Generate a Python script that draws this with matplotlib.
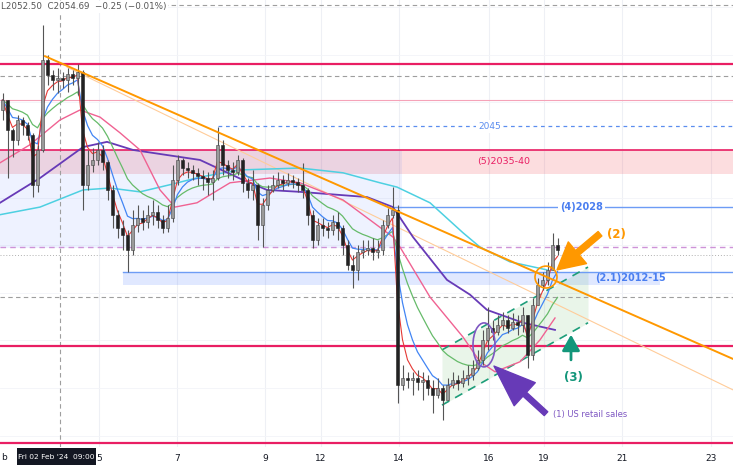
import matplotlib
matplotlib.use('Agg')
import matplotlib.pyplot as plt
import numpy as np
import pandas as pd
from matplotlib.patches import Ellipse

# ---------------- data (bar index = one candle, price in USD) ----------------
open0 = 2048.4
close = [2050.5, 2044.2, 2042.1, 2046.3, 2045.3, 2043.2, 2032.7, 2040.0, 2058.9, 2055.8,
         2054.7, 2055.1, 2054.7, 2056.0, 2055.1, 2056.4, 2032.7, 2036.9, 2037.9, 2040.0,
         2037.5, 2031.6, 2026.4, 2023.6, 2022.2, 2019.0, 2024.3, 2025.7, 2024.9, 2026.4,
         2027.0, 2025.3, 2023.6, 2025.7, 2033.7, 2037.9, 2036.2, 2035.8, 2035.2, 2034.5,
         2034.1, 2033.3, 2034.1, 2041.1, 2036.9, 2035.8, 2035.4, 2037.9, 2033.1, 2031.6,
         2032.7, 2024.3, 2028.5, 2031.6, 2032.7, 2033.7, 2033.1, 2033.7, 2033.3, 2032.7,
         2031.6, 2026.4, 2021.1, 2024.3, 2023.6, 2023.2, 2024.9, 2023.6, 2020.0, 2015.9,
         2014.8, 2018.6, 2019.0, 2019.4, 2018.6, 2019.0, 2024.3, 2026.4, 2027.4, 1990.6,
         1992.1, 1991.7, 1992.1, 1991.3, 1991.7, 1990.0, 1988.5, 1990.0, 1987.5, 1990.6,
         1991.7, 1991.1, 1992.1, 1992.8, 1994.2, 1995.9, 2000.1, 2002.6, 2001.8, 2003.3,
         2004.3, 2002.6, 2003.9, 2003.3, 2005.4, 1997.0, 2007.5, 2011.7, 2012.7, 2014.8,
         2020.0, 2019.0]
high = [2052.0, 2050.5, 2044.6, 2047.4, 2046.9, 2045.9, 2043.6, 2041.1, 2066.3, 2060.0,
        2056.8, 2057.2, 2056.4, 2057.2, 2056.8, 2058.1, 2056.8, 2040.0, 2040.4, 2041.7,
        2041.1, 2037.9, 2032.7, 2027.4, 2025.3, 2023.2, 2027.4, 2028.5, 2027.4, 2028.5,
        2029.5, 2028.5, 2026.4, 2028.5, 2036.9, 2038.9, 2038.3, 2037.5, 2036.9, 2036.2,
        2035.8, 2035.4, 2035.8, 2044.8, 2042.1, 2037.9, 2037.5, 2038.9, 2038.3, 2034.1,
        2035.8, 2033.1, 2029.9, 2032.7, 2034.8, 2035.4, 2034.8, 2035.2, 2034.8, 2034.1,
        2037.3, 2032.0, 2027.4, 2025.7, 2025.7, 2024.9, 2026.4, 2027.0, 2024.3, 2021.1,
        2018.0, 2020.0, 2021.1, 2021.1, 2021.5, 2021.1, 2025.3, 2027.8, 2032.2, 2028.5,
        1994.8, 1993.4, 1993.4, 1993.8, 1993.4, 1992.8, 1991.7, 1992.1, 1990.6, 1992.1,
        1993.4, 1992.8, 1993.8, 1994.9, 1995.9, 1998.0, 2002.2, 2007.0, 2004.3, 2005.4,
        2006.0, 2005.4, 2005.8, 2005.4, 2007.0, 2005.4, 2008.9, 2013.1, 2014.4, 2016.5,
        2022.6, 2021.5]
low = [2046.3, 2034.1, 2038.5, 2041.1, 2043.2, 2042.1, 2030.1, 2031.2, 2039.6, 2053.7,
       2052.6, 2052.0, 2053.0, 2052.2, 2053.7, 2051.6, 2027.4, 2031.6, 2035.4, 2036.9,
       2035.8, 2029.5, 2023.6, 2021.5, 2019.0, 2014.4, 2018.0, 2022.8, 2023.2, 2023.6,
       2024.3, 2023.6, 2022.6, 2022.8, 2024.9, 2032.7, 2034.8, 2034.1, 2033.7, 2032.7,
       2031.6, 2030.6, 2029.5, 2033.7, 2034.8, 2034.1, 2033.7, 2034.8, 2031.2, 2029.9,
       2029.5, 2021.1, 2019.6, 2027.4, 2031.2, 2032.0, 2031.6, 2032.4, 2032.0, 2031.2,
       2029.9, 2024.3, 2019.4, 2020.0, 2021.9, 2021.5, 2022.2, 2021.1, 2018.0, 2014.8,
       2011.0, 2012.7, 2017.3, 2018.0, 2016.9, 2017.3, 2018.0, 2023.6, 2025.7, 1986.9,
       1989.6, 1990.0, 1988.5, 1989.6, 1987.5, 1988.5, 1984.8, 1987.9, 1983.3, 1987.5,
       1990.0, 1989.6, 1990.2, 1990.7, 1991.7, 1993.8, 1994.9, 1998.0, 2000.1, 2001.2,
       2002.2, 2001.6, 2002.2, 2001.2, 2001.8, 1994.2, 1995.9, 2007.5, 2010.6, 2011.7,
       2014.8, 2018.0]

# slower moving averages (bar index, price)
pink_ma_x = [-0.5, 5.5, 11.5, 15.5, 19.5, 23.5, 27.5, 31.5, 34.5, 38.9, 45.5, 53.5, 59.5,
             68.1, 73.5, 78.1, 79.5, 85.5, 92.1, 95.5, 98.5, 103.5, 107.5, 110.5]
pink_ma_y = [2037.3, 2041.1, 2046.3, 2048.4, 2046.9, 2043.6, 2040.0, 2031.6, 2028.0, 2028.9,
             2033.1, 2034.1, 2033.1, 2029.5, 2025.3, 2021.7, 2019.6, 2009.1, 2000.7, 1995.5,
             1993.4, 1995.5, 2000.1, 2004.7]
purple_ma_x = [-0.5, 7.5, 16.1, 20.9, 26.1, 39.5, 48.1, 52.9, 59.5, 72.9, 78.1, 82.1, 88.9,
               93.5, 96.9, 104.1, 110.5]
purple_ma_y = [2028.9, 2034.1, 2040.6, 2041.7, 2040.0, 2037.9, 2033.7, 2031.6, 2031.2, 2030.1,
               2028.0, 2021.7, 2012.7, 2009.6, 2006.4, 2003.7, 2002.2]
cyan_ma_x = [-0.5, 7.5, 16.1, 21.5, 27.5, 33.5, 39.5, 47.5, 59.5, 68.1, 75.5, 78.9, 85.5,
             92.1, 95.5, 101.5, 108.9]
cyan_ma_y = [2026.4, 2028.0, 2031.6, 2032.0, 2031.2, 2032.7, 2034.3, 2035.8, 2036.2, 2035.2,
             2033.1, 2032.2, 2028.9, 2022.6, 2019.6, 2016.5, 2014.8]

# key levels
level_2045 = 2045.0
zone5 = (2035.0, 2040.0)
level_4 = 2028.0
zone21 = (2011.6, 2014.3)
red_levels = [2058.0, 1998.8, 1978.5]
gray_dashed_levels = [2070.4, 2055.5, 2009.1]
gray_dotted_level = 2017.9
pink_thin_level = 2050.5
violet_dashed_level = 2019.6
blue_zone = (2019.5, 2040.0)

# trend lines / channel (bar index, price)
trend_main = ([8.5, 146.1], [2059.7, 1996.1])
trend_faint = ([12.9, 146.1], [2057.4, 1989.6])
chan_lower = ([87.9, 117.1], [1986.4, 2003.7])
chan_upper = ([87.9, 117.1], [1998.0, 2015.4])

tick_pos = [19.3, 34.9, 52.5, 63.7, 79.3, 97.3, 108.3, 123.9, 141.7]
tick_lab = ['5', '7', '9', '12', '14', '16', '19', '21', '23']

# ---------------- figure ----------------
W, H = 733, 465
fig = plt.figure(figsize=(W / 100, H / 100), dpi=100)
ax = fig.add_axes([0, 18 / H, 1, 447 / H])
XMAX = 146.1
ax.set_xlim(-0.5, XMAX)
ax.set_ylim(1977.6, 2071.5)
for s in ax.spines.values():
    s.set_visible(False)
ax.set_yticks([])
ax.set_xticks(tick_pos)
ax.set_xticklabels(tick_lab)
ax.tick_params(axis='x', length=0, pad=5, labelsize=6.5, labelcolor='#131722')

# grid
for t in tick_pos:
    ax.axvline(t, color='#eef0f5', lw=0.8, zorder=0)
for p in np.arange(1980, 2071, 10):
    ax.axhline(p, color='#f3f4f8', lw=0.6, zorder=0)

# zones
ax.fill_between([-0.5, XMAX], zone5[0], zone5[1], color='#f23645', alpha=0.17, lw=0, zorder=1)
ax.fill_between([-0.5, 79.9], blue_zone[0], blue_zone[1], color='#2962ff', alpha=0.08, lw=0, zorder=1)
ax.fill_between([24.1, 131.5], zone21[0], zone21[1], color='#2962ff', alpha=0.14, lw=0, zorder=1)
ax.plot([24.1, XMAX], [zone21[1]] * 2, color='#6d9cf5', lw=1.0, zorder=2)

# horizontal lines
for lv in red_levels:
    ax.axhline(lv, color='#e91e63', lw=1.6, zorder=3)
ax.axhline(zone5[1], color='#e91e63', lw=1.2, zorder=3)
for lv in gray_dashed_levels:
    ax.axhline(lv, color='#9e9e9e', lw=0.8, ls=(0, (4, 3)), zorder=2)
ax.axhline(gray_dotted_level, color='#b0b0b0', lw=0.7, ls=(0, (1, 2)), zorder=2)
ax.axhline(pink_thin_level, color='#f5a3b8', lw=0.8, zorder=2)
ax.axhline(violet_dashed_level, color='#ce93d8', lw=1.0, ls=(0, (4, 3)), zorder=2)
ax.plot([43.1, XMAX], [level_2045] * 2, color='#5b8def', lw=0.9, ls=(0, (3, 3)), zorder=2)
ax.plot([77.9, XMAX], [level_4] * 2, color='#6d9cf5', lw=1.0, zorder=2)

# crosshair
ax.axvline(11.5, color='#9e9e9e', lw=0.8, ls=(0, (4, 3)), zorder=2)

# green channel
cx = np.array(chan_lower[0])
ax.fill_between(cx, chan_lower[1], chan_upper[1], color='#4caf50', alpha=0.12, lw=0, zorder=1)
ax.plot(*chan_lower, color='#1e9e7a', lw=1.2, ls=(0, (5, 4)), zorder=4)
ax.plot(*chan_upper, color='#1e9e7a', lw=1.2, ls=(0, (5, 4)), zorder=4)

# trend lines
ax.plot(*trend_faint, color='#ffcc99', lw=0.8, zorder=3)
ax.plot(*trend_main, color='#ff9800', lw=1.4, zorder=6)

# moving averages
c = pd.Series(close)
ax.plot(cyan_ma_x, cyan_ma_y, color='#4dd0e1', lw=1.1, zorder=4)
ax.plot(purple_ma_x, purple_ma_y, color='#673ab7', lw=1.3, zorder=4)
ax.plot(pink_ma_x, pink_ma_y, color='#f06292', lw=1.0, zorder=4)
x = np.arange(len(close))
ax.plot(x, c.ewm(span=14, adjust=False).mean(), color='#66bb6a', lw=0.9, zorder=4)
ax.plot(x, c.ewm(span=6, adjust=False).mean(), color='#4285f4', lw=0.9, zorder=4)
ax.plot(x, c.ewm(span=3, adjust=False).mean(), color='#e53935', lw=0.8, zorder=4)

# candles
o = np.array([open0] + close[:-1])
cl = np.array(close)
hi = np.maximum(np.array(high), np.maximum(o, cl))
lo = np.minimum(np.array(low), np.minimum(o, cl))
ax.vlines(x, lo, hi, color='#555555', lw=0.8, zorder=5)
up = cl >= o
body_h = np.maximum(np.abs(cl - o), 0.15)
ax.bar(x[up], body_h[up], bottom=np.minimum(o, cl)[up], width=0.7,
       color='#9a9a9a', edgecolor='#444444', lw=0.4, zorder=5)
ax.bar(x[~up], body_h[~up], bottom=np.minimum(o, cl)[~up], width=0.7,
       color='#222222', edgecolor='#222222', lw=0.4, zorder=5)

# level labels
ax.text(97.4, level_2045, '2045', color='#5b8def', fontsize=6.5, ha='center', va='center',
        zorder=7, bbox=dict(fc='white', ec='none', pad=1.5))
ax.text(100.3, 2037.5, '(5)2035-40', color='#e91e63', fontsize=6.8, ha='center', va='center', zorder=7)
ax.text(115.8, level_4, '(4)2028', color='#4a7ef0', fontsize=7, ha='center', va='center',
        fontweight='bold', zorder=7, bbox=dict(fc='white', ec='none', pad=1.5))
ax.text(125.5, 2013.0, '(2.1)2012-15', color='#4a7ef0', fontsize=7, ha='center', va='center',
        fontweight='bold', zorder=7)

# annotations
ax.add_patch(Ellipse((108.7, 2013.3), 4.4, 4.6, fill=False, ec='#ff9800', lw=1.2, zorder=8))
ax.add_patch(Ellipse((96.3, 1999.05), 4.4, 9.24, fill=False, ec='#7e57c2', lw=1.2, zorder=8))
ax.annotate('', xy=(110.9, 2014.8), xytext=(119.5, 2022.4),
            arrowprops=dict(arrowstyle='simple,head_width=1.7,head_length=1.6,tail_width=0.35',
                            color='#ff9800', mutation_scale=12, shrinkA=0, shrinkB=0), zorder=8)
ax.text(122.7, 2022.2, '(2)', color='#ff9800', fontsize=8.5, fontweight='bold',
        ha='center', va='center', zorder=8)
ax.annotate('', xy=(98.3, 1994.6), xytext=(108.7, 1984.6),
            arrowprops=dict(arrowstyle='simple,head_width=1.5,head_length=2.0,tail_width=0.25',
                            color='#673ab7', mutation_scale=15, shrinkA=0, shrinkB=0), zorder=8)
ax.text(110.1, 1984.4, '(1) US retail sales', color='#7e57c2', fontsize=6, ha='left',
        va='center', zorder=8)
ax.annotate('', xy=(113.7, 2001.2), xytext=(113.7, 1995.9),
            arrowprops=dict(arrowstyle='-|>,head_width=0.45,head_length=0.8', color='#13967a',
                            lw=2, mutation_scale=12, shrinkA=0, shrinkB=0), zorder=8)
ax.text(114.1, 1992.3, '(3)', color='#13967a', fontsize=8.5, fontweight='bold',
        ha='center', va='center', zorder=8)

# header & tooltip
fig.text(0.002, 1 - 7 / H, 'L2052.50  C2054.69  \u22120.25 (\u22120.01%)', color='#555555',
         fontsize=6.3, ha='left', va='center', zorder=12,
         bbox=dict(fc='white', ec='none', pad=1.0))
fig.text(1.5 / W, 1 - 457 / H, 'b', color='#131722', fontsize=6.5, ha='left', va='center')
fig.patches.append(matplotlib.patches.Rectangle((17 / W, 0), 79 / W, 17 / H, transform=fig.transFigure,
                                                fc='#131722', ec='none', zorder=10))
fig.text(56.5 / W, 8.5 / H, "Fri 02 Feb '24  09:00", color='white', fontsize=5.4,
         ha='center', va='center', zorder=11)

fig.savefig('out.png', dpi=100)
